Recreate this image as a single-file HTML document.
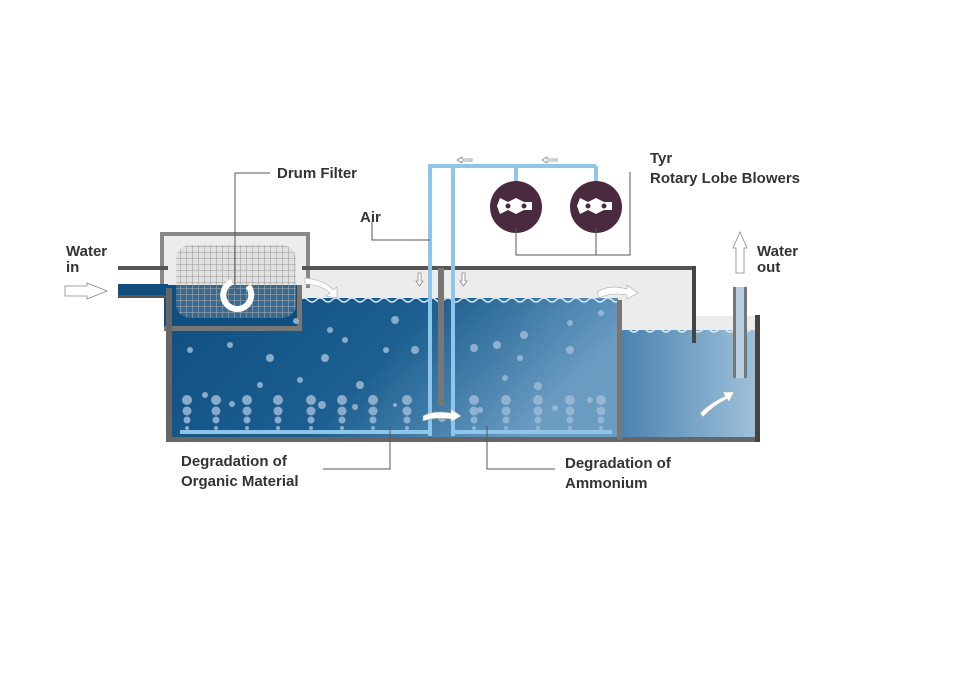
<!DOCTYPE html>
<html><head><meta charset="utf-8"><style>
html,body{margin:0;padding:0;background:#fff;}
svg{display:block;}
text{font-family:"Liberation Sans",sans-serif;font-size:15px;fill:#333;font-weight:bold;}
</style></head><body>
<svg width="954" height="675" viewBox="0 0 954 675" xmlns="http://www.w3.org/2000/svg">
<defs>
<linearGradient id="w" x1="0" y1="0" x2="1" y2="0.3">
<stop offset="0" stop-color="#0f4e80"/><stop offset="0.55" stop-color="#1c5f90"/><stop offset="1" stop-color="#6a9cc2"/>
</linearGradient>
<linearGradient id="w2" x1="0" y1="0" x2="1" y2="0">
<stop offset="0" stop-color="#4a83b0"/><stop offset="1" stop-color="#9fc0da"/>
</linearGradient>
<pattern id="mesh" width="6" height="6" patternUnits="userSpaceOnUse">
<path d="M0 0H6M0 0V6" stroke="#9a9a9a" stroke-width="1.3" fill="none"/>
</pattern>
<g id="col"><circle cx="0" cy="400" r="5"/><circle cx="0" cy="411" r="4.5"/><circle cx="0" cy="420" r="3.5"/><circle cx="0" cy="428" r="2"/></g>
</defs>

<rect x="300" y="270" width="392" height="30" fill="#ececec"/>
<rect x="622" y="300" width="70" height="30" fill="#ececec"/>
<rect x="692" y="316" width="64" height="14" fill="#ececec"/>
<rect x="172" y="298" width="446" height="139" fill="url(#w)"/>
<path d="M300 300 q4 -4 8 0 t8 0 t8 0 t8 0 t8 0 t8 0 t8 0 t8 0 t8 0 t8 0 t8 0 t8 0 t8 0 t8 0 t8 0 t8 0 t8 0 t8 0 t8 0 t8 0 t8 0 t8 0 t8 0 t8 0 t8 0 t8 0 t8 0 t8 0 t8 0 t8 0 t8 0 t8 0 t8 0 t8 0 t8 0 t8 0 t8 0 t8 0 t8 0 t8 0" fill="none" stroke="#dfe9f2" stroke-width="1.5"/>
<rect x="621" y="330" width="135" height="107" fill="url(#w2)"/>
<path d="M622 330 q4 -4 8 0 t8 0 t8 0 t8 0 t8 0 t8 0 t8 0 t8 0 t8 0 t8 0 t8 0 t8 0 t8 0 t8 0 t8 0 t8 0" fill="none" stroke="#e6eef5" stroke-width="1.5"/>

<rect x="160" y="232" width="150" height="56" fill="#888"/>
<rect x="164" y="236" width="142" height="52" fill="#ececec"/>
<rect x="164" y="285" width="136" height="42" fill="#0f4e80"/>
<rect x="118" y="284" width="50" height="11" fill="#0f4e80"/>
<rect x="118" y="295" width="50" height="3" fill="#555"/>
<rect x="118" y="266" width="50" height="4" fill="#555"/>
<rect x="164" y="326" width="138" height="5" fill="#777"/>
<rect x="297" y="285" width="5" height="46" fill="#777"/>
<rect x="176" y="245" width="120" height="73" rx="14" fill="url(#mesh)" opacity="0.95"/>
<rect x="176" y="245" width="120" height="73" rx="14" fill="#bbb" opacity="0.25"/>
<path d="M248 286 A14 14 0 1 1 232 282" fill="none" stroke="#fff" stroke-width="6"/>
<rect x="166" y="288" width="6" height="154" fill="#666"/>
<rect x="166" y="437" width="594" height="5" fill="#666"/>
<rect x="302" y="266" width="394" height="4" fill="#555"/>
<rect x="692" y="266" width="4" height="77" fill="#444"/>
<rect x="617" y="300" width="5" height="140" fill="#777"/>
<rect x="755" y="315" width="5" height="127" fill="#444"/>
<rect x="438" y="268" width="6" height="138" fill="#777"/>
<rect x="733" y="287" width="14" height="91" fill="#b8d0e2"/>
<rect x="733" y="287" width="3" height="91" fill="#777"/>
<rect x="744" y="287" width="3" height="91" fill="#777"/>
<g fill="none" stroke="#8ec6ea" stroke-width="4">
<path d="M430 436 V166 H596"/>
<path d="M453 436 V166"/>
<path d="M516 166 V183 M596 166 V183"/>
<path d="M180 432 H430 M453 432 H612"/>
</g>
<g fill="#4a2a3e"><circle cx="516" cy="207" r="26"/><circle cx="596" cy="207" r="26"/></g>
<g fill="#fff">
<path d="M500 198 l8 4 l8 -4 l8 4 l8 0 l0 8 l-8 0 l-8 4 l-8 -4 l-8 4 l-3 -8z"/>
<path d="M580 198 l8 4 l8 -4 l8 4 l8 0 l0 8 l-8 0 l-8 4 l-8 -4 l-8 4 l-3 -8z"/>
</g>
<g fill="#4a2a3e"><circle cx="508" cy="206" r="2.5"/><circle cx="524" cy="206" r="2.5"/><circle cx="588" cy="206" r="2.5"/><circle cx="604" cy="206" r="2.5"/></g>
<g fill="#9dbad5" opacity="0.85">
<use href="#col" x="187"/><use href="#col" x="216"/><use href="#col" x="247"/><use href="#col" x="278"/><use href="#col" x="311"/><use href="#col" x="342"/><use href="#col" x="373"/><use href="#col" x="407"/>
<use href="#col" x="474"/><use href="#col" x="506"/><use href="#col" x="538"/><use href="#col" x="570"/><use href="#col" x="601"/>
<circle cx="270" cy="358" r="4"/><circle cx="230" cy="345" r="3"/><circle cx="325" cy="358" r="4"/><circle cx="260" cy="385" r="3"/><circle cx="300" cy="380" r="3"/><circle cx="345" cy="340" r="3"/><circle cx="395" cy="320" r="4"/><circle cx="360" cy="385" r="4"/><circle cx="205" cy="395" r="3"/><circle cx="232" cy="404" r="3"/><circle cx="322" cy="405" r="4"/><circle cx="355" cy="407" r="3"/><circle cx="395" cy="405" r="2"/><circle cx="415" cy="350" r="4"/><circle cx="386" cy="350" r="3"/><circle cx="190" cy="350" r="3"/><circle cx="330" cy="330" r="3"/><circle cx="296" cy="321" r="3"/>
<circle cx="474" cy="348" r="4"/><circle cx="497" cy="345" r="4"/><circle cx="524" cy="335" r="4"/><circle cx="570" cy="323" r="3"/><circle cx="538" cy="386" r="4"/><circle cx="505" cy="378" r="3"/><circle cx="570" cy="350" r="4"/><circle cx="520" cy="358" r="3"/><circle cx="555" cy="408" r="3"/><circle cx="590" cy="400" r="3"/><circle cx="442" cy="418" r="4"/><circle cx="480" cy="410" r="3"/><circle cx="601" cy="313" r="3"/>
</g>
<g fill="#fff" stroke="#aaa" stroke-width="0.6">
<path d="M305 278 q20 2 28 12 l4 -3 l0 11 l-11 -2 l4 -3 q-8 -8 -25 -9z"/>
<path d="M597 292 q12 -8 30 -3 l0 -4 l11 8 l-11 6 l0 -4 q-16 -3 -28 3z"/>
<path d="M700 413 q10 -10 25 -17 l-2 -4 l11 0 l-5 10 l-2 -3 q-14 7 -24 18z"/>
<path d="M423 416 q10 -6 28 -3 l0 -4 l10 7 l-10 6 l0 -3 q-16 -2 -28 2z"/>
</g>
<g fill="#fff" stroke="#888" stroke-width="0.8">
<path d="M65 286 h22 l0 -3 l20 8 l-20 8 l0 -3 h-22z"/>
<path d="M736 273 v-25 h-3 l7 -16 l7 16 h-3 v25z"/>
<path d="M418 281 v-8 h3 v8 h2 l-3.5 5 l-3.5 -5z"/>
<path d="M462 281 v-8 h3 v8 h2 l-3.5 5 l-3.5 -5z"/>
<path d="M472 159 h-10 v-2 l-5 3 l5 3 v-2 h10z"/>
<path d="M557 159 h-10 v-2 l-5 3 l5 3 v-2 h10z"/>
</g>
<g fill="none" stroke="#555" stroke-width="1">
<path d="M270 173 H235 V292"/>
<path d="M372 222 V240 H430"/>
<path d="M630 172 V255 H516 V228 M596 228 V255"/>
<path d="M390 426 V469 H323"/>
<path d="M487 426 V469 H555"/>
</g>
<text x="277" y="178">Drum Filter</text>
<text x="360" y="222">Air</text>
<text x="650" y="163">Tyr</text>
<text x="650" y="183">Rotary Lobe Blowers</text>
<text x="66" y="256">Water</text>
<text x="66" y="272">in</text>
<text x="757" y="256">Water</text>
<text x="757" y="272">out</text>
<text x="181" y="466">Degradation of</text>
<text x="181" y="486">Organic Material</text>
<text x="565" y="468">Degradation of</text>
<text x="565" y="488">Ammonium</text>
</svg>
</body></html>
